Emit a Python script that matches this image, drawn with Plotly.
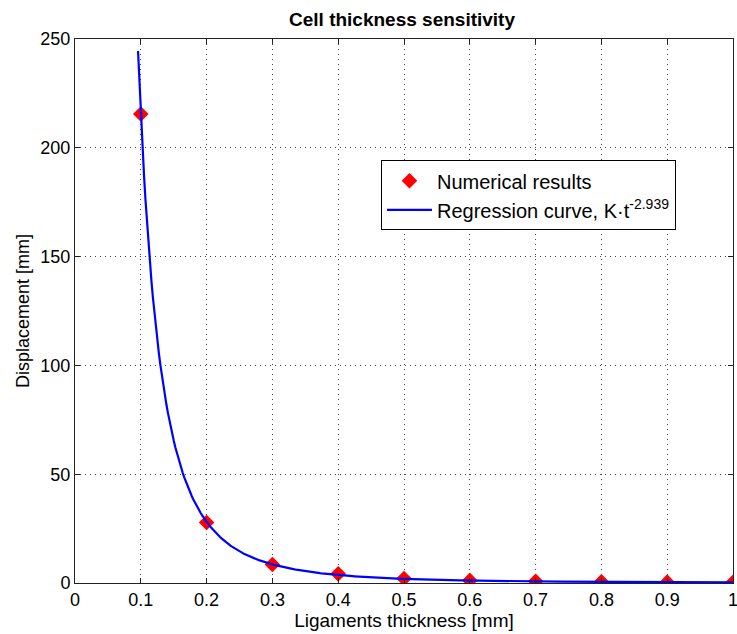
import numpy as np
import plotly.graph_objects as go

# Data
thickness = [0.1, 0.2, 0.3, 0.4, 0.5, 0.6, 0.7, 0.8, 0.9, 1.0]
displacement = [215.5, 27.8, 8.5, 4.2, 2.1, 1.2, 0.8, 0.55, 0.4, 0.3]

# Regression curve parameters: K * t^-2.939
K_COEF = 0.248
EXPONENT = -2.939
T_START = 0.0958
T_END = 1.0

x_ticks = [0, 0.1, 0.2, 0.3, 0.4, 0.5, 0.6, 0.7, 0.8, 0.9, 1]
x_ticklabels = ["0", "0.1", "0.2", "0.3", "0.4", "0.5", "0.6", "0.7", "0.8", "0.9", "1"]
y_ticks = [0, 50, 100, 150, 200, 250]

t_curve = np.linspace(T_START, T_END, 400)
y_curve = K_COEF * t_curve ** EXPONENT

FONT = "Liberation Sans, Arial, sans-serif"

fig = go.Figure()
fig.add_trace(go.Scatter(
    x=thickness, y=displacement, mode="markers",
    name="Numerical results",
    marker=dict(symbol="diamond", size=12, color="#ff0000", line=dict(width=0)),
))
fig.add_trace(go.Scatter(
    x=t_curve, y=y_curve, mode="lines",
    name="Regression curve, K·t<sup>-2.939</sup>",
    line=dict(color="#0000ff", width=2.2),
))

axis_common = dict(
    showline=True, linecolor="#222222", linewidth=1, mirror="ticks",
    ticks="inside", ticklen=5, tickcolor="#222222",
    showgrid=True, gridcolor="#444444", gridwidth=1, griddash="1px,4px",
    zeroline=False, automargin=False, ticklabeloverflow="allow",
    tickfont=dict(family=FONT, size=18, color="black"),
)

fig.update_xaxes(
    range=[0, 1], tickvals=x_ticks, ticktext=x_ticklabels,
    title=dict(text="Ligaments thickness [mm]", font=dict(family=FONT, size=19, color="black"), standoff=2),
    ticklabelstandoff=0,
    **axis_common,
)
fig.update_yaxes(
    range=[0, 250], tickvals=y_ticks,
    title=dict(text="Displacement [mm]", font=dict(family=FONT, size=18, color="black"), standoff=6),
    **axis_common,
)

fig.update_layout(
    width=737, height=634,
    margin=dict(l=75, r=4, t=39, b=51),
    paper_bgcolor="white", plot_bgcolor="white",
    title=dict(text="<b>Cell thickness sensitivity</b>", x=0.5455, xanchor="center",
               y=0.970, yanchor="middle",
               font=dict(family=FONT, size=19, color="black")),
    legend=dict(
        x=0.465, y=0.777, xanchor="left", yanchor="top",
        bgcolor="white", bordercolor="black", borderwidth=1,
        font=dict(family=FONT, size=20, color="black"),
        tracegroupgap=0, itemwidth=45,
    ),
    showlegend=True,
)

fig.write_html("out.html", config={"displayModeBar": False},
               post_script="document.body.style.margin='0';")
